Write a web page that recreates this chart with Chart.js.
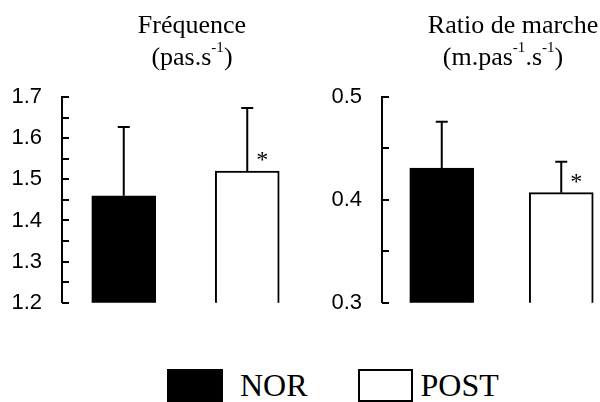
<!DOCTYPE html>
<html>
<head>
<meta charset="utf-8">
<script src="https://cdn.jsdelivr.net/npm/chart.js@4"></script>
<style>
  html, body { margin: 0; padding: 0; background: #fff; }
  body { width: 600px; height: 402px; overflow: hidden; position: relative; font-family: "Liberation Serif", serif; color: #000; }
  .chart { position: absolute; top: 0; height: 336px; }
  .title { position: absolute; font-size: 26px; white-space: nowrap; transform: translateX(-50%); line-height: 30px; }
  .title sup { font-size: 58%; line-height: 0; position: relative; top: -3px; }
  .legend { position: absolute; top: 367px; left: 167px; display: flex; align-items: center; font-size: 32px; }
  .swatch { height: 29px; border: 2px solid #000; }
</style>
</head>
<body>
<div class="chart" style="left:0;width:320px"><canvas id="freq"></canvas></div>
<div class="chart" style="left:300px;width:332px"><canvas id="ratio"></canvas></div>

<div class="title" style="left:192px;top:10px">Fréquence</div>
<div class="title" style="left:192px;top:42px">(pas.s<sup>-1</sup>)</div>
<div class="title" style="left:513px;top:10px">Ratio de marche</div>
<div class="title" style="left:503px;top:42px">(m.pas<sup>-1</sup>.s<sup>-1</sup>)</div>

<div class="legend">
  <div class="swatch" style="width:52px;background:#000"></div>
  <span style="margin-left:17px">NOR</span>
  <div class="swatch" style="width:51px;background:#fff;margin-left:50px"></div>
  <span style="margin-left:8px">POST</span>
</div>

<script>
// groupes
const groups = ['NOR', 'POST'];
const groupColors = ['#000000', '#ffffff'];

// fréquence (pas.s-1)
const freqMean = [1.46, 1.52];
const freqSd = [0.167, 0.153];
const freqSig = [false, true];

// ratio de marche (m.pas-1.s-1)
const ratioMean = [0.431, 0.407];
const ratioSd = [0.045, 0.030];
const ratioSig = [false, true];

// barres d'erreur (vers le haut seulement) + astérisques
const errorBars = {
    id: 'errorBars',
    afterDatasetsDraw(chart, args, opts) {
        const ctx = chart.ctx;
        const y = chart.scales.y;
        const meta = chart.getDatasetMeta(0);
        ctx.save();
        ctx.strokeStyle = '#000';
        ctx.lineWidth = 2;
        meta.data.forEach((bar, i) => {
            const top = y.getPixelForValue(opts.mean[i] + opts.sd[i]);
            ctx.beginPath();
            ctx.moveTo(bar.x, bar.y);
            ctx.lineTo(bar.x, top);
            ctx.moveTo(bar.x - 6, top);
            ctx.lineTo(bar.x + 6, top);
            ctx.stroke();
            if (opts.sig[i]) {
                ctx.fillStyle = '#000';
                ctx.font = '24px "Liberation Serif"';
                ctx.textAlign = 'center';
                ctx.textBaseline = 'middle';
                ctx.fillText('*', bar.x + 15, bar.y - 10);
            }
        });
        ctx.restore();
    }
};

// petites graduations tournées vers l'intérieur
const innerTicks = {
    id: 'innerTicks',
    afterDraw(chart) {
        const ctx = chart.ctx;
        const y = chart.scales.y;
        const left = chart.chartArea.left;
        const step = 0.05;
        ctx.save();
        ctx.strokeStyle = '#000';
        ctx.lineWidth = 2;
        for (let v = y.min; v <= y.max + 1e-9; v += step) {
            const py = Math.round(y.getPixelForValue(v));
            ctx.beginPath();
            ctx.moveTo(left, py);
            ctx.lineTo(left + 7, py);
            ctx.stroke();
        }
        ctx.restore();
    }
};

function makeChart(id, mean, sd, sig, min, max, axisWidth) {
    return new Chart(document.getElementById(id), {
        type: 'bar',
        data: {
            labels: groups,
            datasets: [{
                data: mean.map(v => v),
                backgroundColor: groupColors,
                borderColor: '#000',
                borderWidth: 2,
                borderSkipped: false,
                barThickness: 64
            }]
        },
        options: {
            responsive: true,
            maintainAspectRatio: false,
            animation: false,
            layout: { padding: { top: 97, bottom: 3, right: 11, left: 0 } },
            plugins: {
                legend: { display: false },
                tooltip: { enabled: false },
                errorBars: { mean: mean, sd: sd, sig: sig }
            },
            scales: {
                x: { display: false },
                y: {
                    min: min, max: max,
                    afterFit: s => { s.width = axisWidth; },
                    ticks: {
                        stepSize: 0.1,
                        color: '#000',
                        padding: 20,
                        font: { family: '"Liberation Sans", Arial, sans-serif', size: 22 },
                        callback: v => Number(v).toFixed(1)
                    },
                    grid: { drawOnChartArea: false, drawTicks: false },
                    border: { color: '#000', width: 2 }
                }
            }
        },
        plugins: [errorBars, innerTicks]
    });
}

makeChart('freq', freqMean, freqSd, freqSig, 1.2, 1.7, 62);
makeChart('ratio', ratioMean, ratioSd, ratioSig, 0.3, 0.5, 82);
</script>
</body>
</html>
